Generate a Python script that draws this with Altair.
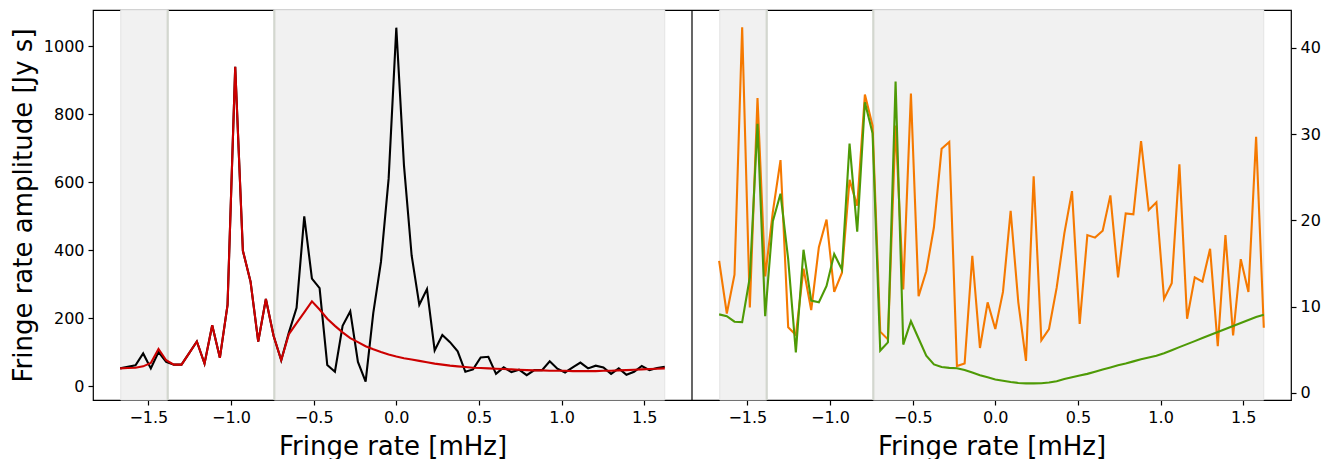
import altair as alt
import pandas as pd

# ---------------- data ----------------
fringe_rate = [
    -1.6708, -1.6244, -1.5779, -1.5315, -1.4851, -1.4387, -1.3923, -1.3459, -1.2995, -1.2531,
    -1.2067, -1.1603, -1.1138, -1.0674, -1.0210, -0.9746, -0.9282, -0.8818, -0.8354, -0.7890,
    -0.7426, -0.6962, -0.6497, -0.6033, -0.5569, -0.5105, -0.4641, -0.4177, -0.3713, -0.3249,
    -0.2785, -0.2321, -0.1856, -0.1392, -0.0928, -0.0464, 0.0, 0.0464, 0.0928, 0.1392,
    0.1856, 0.2321, 0.2785, 0.3249, 0.3713, 0.4177, 0.4641, 0.5105, 0.5569, 0.6033,
    0.6497, 0.6962, 0.7426, 0.7890, 0.8354, 0.8818, 0.9282, 0.9746, 1.0210, 1.0674,
    1.1138, 1.1603, 1.2067, 1.2531, 1.2995, 1.3459, 1.3923, 1.4387, 1.4851, 1.5315,
    1.5779, 1.6244,
]

black_amp = [
    53, 58, 62, 97, 53, 101, 72, 64, 64, 98,
    132, 67, 180, 84, 240, 940, 399, 308, 132, 257,
    149, 77, 159, 231, 500, 317, 289, 63, 43, 178,
    221, 72, 14, 216, 366, 611, 1055, 650, 385, 240,
    286, 106, 151, 130, 103, 43, 50, 85, 87, 37,
    56, 42, 49, 33, 48, 48, 74, 52, 41, 56,
    70, 53, 61, 56, 37, 53, 34, 43, 60, 48,
    54, 58,
]

red_model = [
    53, 54, 55, 59, 69, 110, 77, 64, 64, 98,
    132, 67, 180, 84, 240, 940, 399, 308, 132, 257,
    149, 77, 154, 186, 218, 250, 226, 199, 178, 159,
    142, 130, 118, 109, 101, 94, 88, 83, 79, 75,
    71, 67, 64, 61, 59, 57, 55, 54, 53, 52,
    51, 50, 49, 48, 47, 47, 46, 46, 46, 45,
    45, 45, 45, 46, 46, 47, 48, 49, 50, 51,
    52, 53,
]

orange_amp = [
    15.3, 9.2, 13.7, 42.4, 9.9, 34.2, 13.5, 21.0, 27.0, 7.6,
    6.7, 14.4, 9.6, 16.9, 20.1, 11.7, 13.9, 24.7, 21.7, 34.6,
    31.0, 7.1, 6.2, 31.0, 12.0, 34.7, 11.2, 14.1, 19.2, 28.3,
    29.1, 3.1, 3.4, 15.9, 5.2, 10.5, 7.4, 11.7, 21.1, 10.5,
    3.7, 25.1, 6.1, 7.4, 12.2, 18.5, 23.4, 8.0, 18.3, 18.0,
    18.8, 22.9, 13.4, 20.8, 20.7, 29.2, 21.2, 22.1, 10.9, 12.7,
    26.5, 8.6, 13.4, 12.9, 16.7, 5.4, 18.3, 6.65, 15.5, 11.7,
    29.7, 7.55,
]

green_amp = [
    9.1, 8.9, 8.25, 8.2, 13.4, 31.2, 8.9, 19.9, 23.1, 15.5,
    4.7, 16.6, 10.7, 10.5, 12.4, 16.1, 14.3, 28.9, 18.7, 33.7,
    30.1, 4.9, 5.85, 36.1, 5.6, 8.3, 6.3, 4.3, 3.3, 3.0,
    2.9, 2.85, 2.65, 2.35, 2.05, 1.8, 1.55, 1.4, 1.25, 1.15,
    1.1, 1.1, 1.12, 1.2, 1.35, 1.6, 1.8, 2.0, 2.2, 2.45,
    2.7, 2.95, 3.2, 3.4, 3.65, 3.9, 4.1, 4.3, 4.6, 4.95,
    5.3, 5.65, 6.0, 6.35, 6.7, 7.05, 7.4, 7.75, 8.1, 8.45,
    8.8, 9.05,
]

band_start = [-1.667, -0.738]
band_end = [-1.383, 1.624]
marker_lines = [-1.383, -0.738]

x_ticks = [-1.5, -1.0, -0.5, 0.0, 0.5, 1.0, 1.5]
left_ticks = [0, 200, 400, 600, 800, 1000]
right_ticks = [0, 10, 20, 30, 40]

panel_x_range = [-1.835, 1.789]          # visible fringe-rate range of each panel
left_y_range = [-40, 1107]
right_y_range = [-0.83, 44.4]

# ---------------- layout helpers ----------------
SPAN = panel_x_range[1] - panel_x_range[0]   # right panel is drawn shifted by one panel width
X_TITLE = "Fringe rate [mHz]"
Y_TITLE = "Fringe rate amplitude [Jy s]"

W_PANEL, H = 599, 390
W = 2 * W_PANEL

df_left = pd.DataFrame({
    "x": fringe_rate * 2,
    "amp": black_amp + red_model,
    "series": ["data"] * len(fringe_rate) + ["model"] * len(fringe_rate),
})
df_right = pd.DataFrame({
    "x": [f + SPAN for f in fringe_rate] * 2,
    "amp": orange_amp + green_amp,
    "series": ["orange"] * len(fringe_rate) + ["green"] * len(fringe_rate),
})
df_bands_left = pd.DataFrame({"start": band_start, "end": band_end})
df_bands_right = pd.DataFrame({"start": [b + SPAN for b in band_start],
                               "end": [b + SPAN for b in band_end]})
df_lines_left = pd.DataFrame({"pos": marker_lines})
df_lines_right = pd.DataFrame({"pos": [m + SPAN for m in marker_lines]})
df_sep = pd.DataFrame({"pos": [panel_x_range[1]]})

xscale = alt.Scale(domain=[panel_x_range[0], panel_x_range[1] + SPAN], nice=False, zero=False)

left_xaxis = alt.Axis(
    values=x_ticks, format=".1f", title=X_TITLE, orient="bottom",
    titleX=W_PANEL / 2, titleAlign="center", titlePadding=8,
)
right_xaxis = alt.Axis(
    values=[t + SPAN for t in x_ticks], orient="bottom",
    labelExpr=f"format(datum.value - {SPAN}, '.1f')",
    title=X_TITLE, titleX=W_PANEL + W_PANEL / 2, titleAlign="center", titlePadding=8,
)

left_yscale = alt.Scale(domain=left_y_range, nice=False, zero=False)
right_yscale = alt.Scale(domain=right_y_range, nice=False, zero=False)
left_yaxis = alt.Axis(values=left_ticks, format="d", orient="left", titlePadding=7, title=Y_TITLE)
right_yaxis = alt.Axis(values=right_ticks, format="d", orient="right", title=None)


def background(df_bands, df_lines, xaxis):
    bands = alt.Chart(df_bands).mark_rect(
        fill="#f1f1f1", stroke="#e4e4e4", strokeWidth=1
    ).encode(
        x=alt.X("start:Q", scale=xscale, axis=xaxis),
        x2="end:Q",
        y=alt.value(0),
        y2=alt.value(H),
    )
    rules = alt.Chart(df_lines).mark_rule(color="#d3d7cf", strokeWidth=2.2).encode(
        x=alt.X("pos:Q", scale=xscale, axis=xaxis),
    )
    return bands + rules


def line_layer(df, series, color, xaxis, yscale, yaxis):
    return alt.Chart(df).transform_filter(
        alt.datum.series == series
    ).mark_line(color=color, strokeWidth=2.1, strokeJoin="miter", clip=True).encode(
        x=alt.X("x:Q", scale=xscale, axis=xaxis),
        y=alt.Y("amp:Q", scale=yscale, axis=yaxis),
    )


left_group = alt.layer(
    background(df_bands_left, df_lines_left, left_xaxis),
    line_layer(df_left, "data", "#000000", left_xaxis, left_yscale, left_yaxis),
    line_layer(df_left, "model", "#cc0000", left_xaxis, left_yscale, left_yaxis),
)

separator = alt.Chart(df_sep).mark_rule(color="black", strokeWidth=1.2).encode(
    x=alt.X("pos:Q", scale=xscale, axis=right_xaxis),
)

right_group = alt.layer(
    background(df_bands_right, df_lines_right, right_xaxis),
    line_layer(df_right, "orange", "#f57900", right_xaxis, right_yscale, right_yaxis),
    line_layer(df_right, "green", "#4e9a06", right_xaxis, right_yscale, right_yaxis),
    separator,
)

chart = alt.layer(left_group, right_group).resolve_scale(
    y="independent"
).resolve_axis(
    x="independent", y="independent"
).properties(
    width=W, height=H,
    padding={"left": 2, "top": 0, "right": 0, "bottom": 0},
).configure_view(
    stroke="black", strokeWidth=1.2
).configure_axis(
    domain=False,
    grid=False,
    labelFont="DejaVu Sans",
    titleFont="DejaVu Sans",
    labelFontSize=16,
    titleFontSize=26,
    titleFontWeight="normal",
    labelColor="black",
    titleColor="black",
    tickColor="black",
    tickSize=5,
    tickWidth=1.2,
    labelPadding=4,
)

chart.save("out.html", embed_options={"renderer": "svg", "actions": False})
